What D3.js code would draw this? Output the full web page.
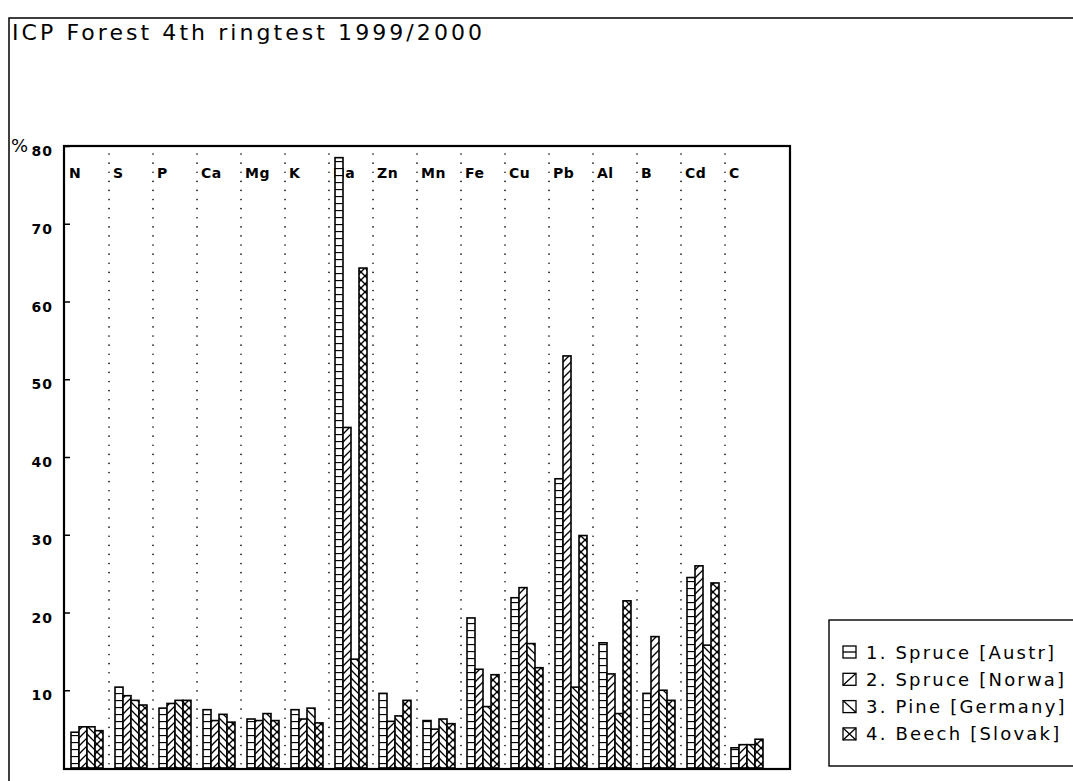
<!DOCTYPE html>
<html>
<head>
<meta charset="utf-8">
<script src="https://cdn.jsdelivr.net/npm/d3@7/dist/d3.min.js"></script>
<style>
  html, body { margin: 0; padding: 0; background: #fff; }
  svg { display: block; }
</style>
</head>
<body>
<svg id="chart" width="1073" height="781"></svg>
<script>
// Ringtest results: deviation (%) per element for four sample materials
const elements = ["N", "S", "P", "Ca", "Mg", "K", "Na", "Zn", "Mn", "Fe", "Cu", "Pb", "Al", "B", "Cd", "C"];
const seriesNames = ["1. Spruce [Austr]", "2. Spruce [Norwa]", "3. Pine [Germany]", "4. Beech [Slovak]"];
const spruceAustria = [4.6, 10.4, 7.7, 7.5, 6.3, 7.5, 78.5, 9.6, 6.1, 19.3, 21.9, 37.2, 16.1, 9.6, 24.5, 2.6];
const spruceNorway  = [5.3, 9.3, 8.3, 6.1, 6.1, 6.3, 43.8, 6.0, 5.0, 12.7, 23.2, 53.0, 12.1, 16.9, 26.0, 3.0];
const pineGermany   = [5.3, 8.7, 8.7, 6.9, 7.0, 7.7, 14.0, 6.7, 6.3, 7.9, 16.0, 10.4, 7.0, 10.0, 15.8, 3.0];
const beechSlovakia = [4.8, 8.1, 8.7, 5.9, 6.1, 5.8, 64.3, 8.7, 5.7, 12.0, 12.9, 29.9, 21.5, 8.7, 23.8, 3.7];
const yTicks = [10, 20, 30, 40, 50, 60, 70, 80];

const seriesValues = [spruceAustria, spruceNorway, pineGermany, beechSlovakia];
const patternIds = ["pat-h", "pat-f", "pat-b", "pat-x"];

const svg = d3.select("#chart");
const FONT = "'DejaVu Sans', 'Liberation Sans', sans-serif";

// Hatch patterns
const defs = svg.append("defs");
function pattern(id, size, paths) {
  const p = defs.append("pattern").attr("id", id)
    .attr("patternUnits", "userSpaceOnUse").attr("width", size).attr("height", size);
  p.append("rect").attr("width", size).attr("height", size).attr("fill", "#fff");
  paths.forEach(d => p.append("path").attr("d", d).attr("stroke", "#000")
    .attr("stroke-width", 1.3).attr("fill", "none"));
}
pattern("pat-h", 7, ["M0,0.5H7"]);
pattern("pat-f", 8, ["M-1,9L9,-1", "M-1,1L1,-1", "M7,9L9,7"]);
pattern("pat-b", 8, ["M-1,-1L9,9", "M-1,7L1,9", "M7,-1L9,1"]);
pattern("pat-x", 8, ["M0,0L8,8", "M0,8L8,0"]);

// Outer sheet border
svg.append("path").attr("d", "M9,781V18H1073")
  .attr("fill", "none").attr("stroke", "#000").attr("stroke-width", 1.5);

// Title
svg.append("text").attr("x", 12).attr("y", 40)
  .attr("font-family", FONT).attr("font-size", 22)
  .attr("textLength", 470).attr("lengthAdjust", "spacing")
  .text("ICP Forest 4th ringtest 1999/2000");

// Plot geometry
const plot = { left: 64, top: 146, right: 790, bottom: 768 };
const x0 = d3.scaleBand().domain(elements).range([65, 769]).paddingInner(0).paddingOuter(0);
const x1 = d3.scaleBand().domain(d3.range(seriesNames.length)).range([6, 38]);
const y = d3.scaleLinear().domain([0, 80]).range([plot.bottom, plot.top]);

// Dotted separators between elements
elements.slice(1).forEach(e => {
  svg.append("line")
    .attr("x1", x0(e)).attr("x2", x0(e))
    .attr("y1", plot.top + 8).attr("y2", plot.bottom)
    .attr("stroke", "#000").attr("stroke-width", 1.6)
    .attr("stroke-linecap", "round").attr("stroke-dasharray", "0.1,9");
});

// Element labels
svg.append("g").selectAll("text").data(elements).join("text")
  .attr("x", d => x0(d) + 4).attr("y", 178)
  .attr("font-family", FONT).attr("font-size", 14).attr("font-weight", "bold")
  .attr("letter-spacing", 0.5)
  .text(d => d);

// Bars
const groups = svg.append("g").selectAll("g").data(elements).join("g")
  .attr("transform", d => `translate(${x0(d)},0)`);
groups.selectAll("rect")
  .data((d, i) => seriesValues.map((vals, s) => ({ s, v: vals[i] })))
  .join("rect")
  .attr("x", d => x1(d.s)).attr("width", x1.bandwidth())
  .attr("y", d => y(d.v)).attr("height", d => y(0) - y(d.v))
  .attr("fill", d => `url(#${patternIds[d.s]})`)
  .attr("stroke", "#000").attr("stroke-width", 1.6);

// Y axis: inward ticks, labels on the left
const yAxis = svg.append("g").attr("transform", `translate(${plot.left},0)`)
  .call(d3.axisRight(y).tickValues(yTicks).tickSize(6).tickFormat(""));
yAxis.select(".domain").remove();
yAxis.selectAll(".tick line").attr("stroke", "#000").attr("stroke-width", 1.5);
svg.append("g").selectAll("text").data(yTicks).join("text")
  .attr("x", 53).attr("y", d => y(d) + 10).attr("text-anchor", "end")
  .attr("font-family", FONT).attr("font-size", 14).attr("font-weight", "bold")
  .attr("letter-spacing", 1)
  .text(d => d);
svg.append("text").attr("x", 11).attr("y", 152)
  .attr("font-family", FONT).attr("font-size", 18)
  .text("%");

// Plot frame
svg.append("rect").attr("x", plot.left).attr("y", plot.top)
  .attr("width", plot.right - plot.left).attr("height", plot.bottom - plot.top + 1)
  .attr("fill", "none").attr("stroke", "#000").attr("stroke-width", 2.2);

// Legend
const lg = svg.append("g");
lg.append("rect").attr("x", 829).attr("y", 620).attr("width", 260).attr("height", 146)
  .attr("fill", "#fff").attr("stroke", "#000").attr("stroke-width", 1.4);
const items = lg.selectAll("g.item").data(seriesNames).join("g").attr("class", "item")
  .attr("transform", (d, i) => `translate(0,${652 + i * 27.3})`);
items.append("rect").attr("x", 843).attr("y", -6).attr("width", 13).attr("height", 12)
  .attr("fill", "#fff").attr("stroke", "#000").attr("stroke-width", 1.3);
items.append("path")
  .attr("d", (d, i) => [
    "M843,0H856",
    "M843,6L856,-6",
    "M843,-6L856,6",
    "M843,-6L856,6M843,6L856,-6"
  ][i])
  .attr("stroke", "#000").attr("stroke-width", 1.3).attr("fill", "none");
items.append("text").attr("x", 866).attr("y", 6.5)
  .attr("font-family", FONT).attr("font-size", 18)
  .attr("letter-spacing", 2.2)
  .text(d => d);
</script>
</body>
</html>
